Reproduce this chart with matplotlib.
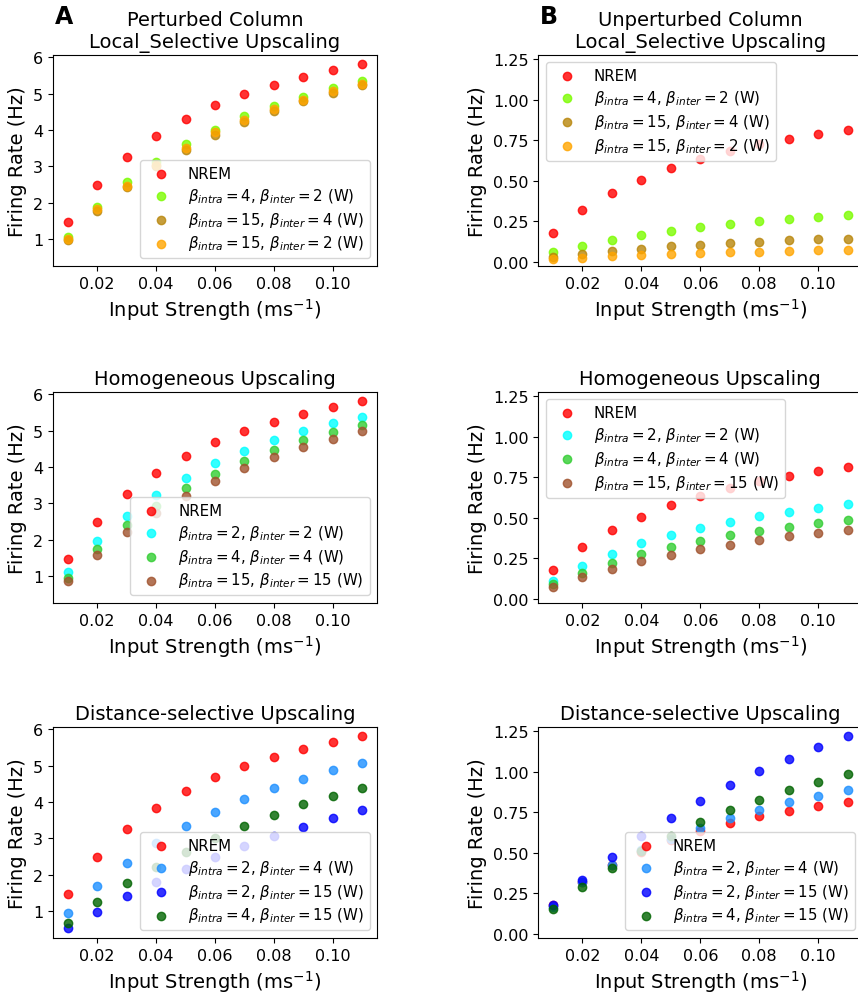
import numpy as np
import matplotlib
matplotlib.use('Agg')
import matplotlib.pyplot as plt

# input strength (ms^-1)
input_strength = [0.01, 0.02, 0.03, 0.04, 0.05, 0.06, 0.07, 0.08, 0.09, 0.10, 0.11]

# perturbed column firing rates (Hz)
pert_nrem = [1.46, 2.49, 3.26, 3.84, 4.31, 4.68, 4.99, 5.24, 5.47, 5.65, 5.81]
pert_loc_4_2 = [1.05, 1.89, 2.56, 3.12, 3.60, 4.01, 4.37, 4.66, 4.91, 5.14, 5.34]
pert_loc_15_4 = [0.98, 1.76, 2.43, 3.00, 3.45, 3.86, 4.22, 4.53, 4.79, 5.02, 5.24]
pert_loc_15_2 = [1.00, 1.81, 2.47, 3.03, 3.51, 3.93, 4.28, 4.57, 4.83, 5.07, 5.26]
pert_hom_2_2 = [1.11, 1.96, 2.66, 3.23, 3.70, 4.10, 4.43, 4.73, 4.98, 5.20, 5.38]
pert_hom_4_4 = [0.94, 1.74, 2.39, 2.93, 3.41, 3.81, 4.16, 4.46, 4.73, 4.96, 5.16]
pert_hom_15_15 = [0.85, 1.57, 2.20, 2.73, 3.19, 3.60, 3.96, 4.27, 4.54, 4.78, 5.00]
pert_dist_2_4 = [0.94, 1.70, 2.33, 2.88, 3.34, 3.73, 4.08, 4.38, 4.64, 4.87, 5.07]
pert_dist_2_15 = [0.52, 0.98, 1.41, 1.80, 2.16, 2.49, 2.79, 3.06, 3.32, 3.56, 3.79]
pert_dist_4_15 = [0.66, 1.24, 1.76, 2.22, 2.63, 3.02, 3.35, 3.65, 3.93, 4.17, 4.39]

# unperturbed column firing rates (Hz)
unpert_nrem = [0.18, 0.317, 0.423, 0.507, 0.577, 0.635, 0.685, 0.726, 0.759, 0.789, 0.815]
unpert_loc_4_2 = [0.058, 0.099, 0.136, 0.164, 0.191, 0.212, 0.232, 0.249, 0.263, 0.275, 0.286]
unpert_loc_15_4 = [0.031, 0.047, 0.068, 0.082, 0.095, 0.105, 0.115, 0.123, 0.132, 0.138, 0.144]
unpert_loc_15_2 = [0.018, 0.027, 0.037, 0.043, 0.049, 0.056, 0.060, 0.064, 0.068, 0.072, 0.076]
unpert_hom_2_2 = [0.113, 0.202, 0.278, 0.342, 0.394, 0.437, 0.476, 0.509, 0.538, 0.563, 0.586]
unpert_hom_4_4 = [0.093, 0.161, 0.223, 0.274, 0.320, 0.357, 0.392, 0.421, 0.446, 0.468, 0.489]
unpert_hom_15_15 = [0.072, 0.132, 0.186, 0.231, 0.270, 0.305, 0.334, 0.363, 0.386, 0.406, 0.425]
unpert_dist_2_4 = [0.168, 0.318, 0.425, 0.515, 0.585, 0.655, 0.712, 0.766, 0.811, 0.852, 0.887]
unpert_dist_2_15 = [0.179, 0.335, 0.474, 0.601, 0.716, 0.819, 0.915, 1.002, 1.080, 1.151, 1.219]
unpert_dist_4_15 = [0.152, 0.289, 0.406, 0.509, 0.605, 0.688, 0.761, 0.825, 0.885, 0.938, 0.985]

nrem_label = 'NREM'
loc_labels = [r'$\beta_{intra} = 4$, $\beta_{inter} = 2$ (W)',
              r'$\beta_{intra} = 15$, $\beta_{inter} = 4$ (W)',
              r'$\beta_{intra} = 15$, $\beta_{inter} = 2$ (W)']
hom_labels = [r'$\beta_{intra} = 2$, $\beta_{inter} = 2$ (W)',
              r'$\beta_{intra} = 4$, $\beta_{inter} = 4$ (W)',
              r'$\beta_{intra} = 15$, $\beta_{inter} = 15$ (W)']
dist_labels = [r'$\beta_{intra} = 2$, $\beta_{inter} = 4$ (W)',
               r'$\beta_{intra} = 2$, $\beta_{inter} = 15$ (W)',
               r'$\beta_{intra} = 4$, $\beta_{inter} = 15$ (W)']

loc_colors = ['lawngreen', 'darkgoldenrod', 'orange']
hom_colors = ['cyan', 'limegreen', 'sienna']
dist_colors = ['dodgerblue', 'blue', 'darkgreen']


def draw_panel(ax, nrem, series, labels, colors, title, legend_loc, ylim):
    """
    Scatter of firing rate vs input strength for one upscaling type
    """
    ax.scatter(input_strength, nrem, color='red', alpha=0.8, label=nrem_label)
    for vals, lab, col in zip(series, labels, colors):
        ax.scatter(input_strength, vals, color=col, alpha=0.8, label=lab)
    ax.set_xlim(0.005, 0.115)
    ax.set_ylim(*ylim)
    ax.set_title(title, fontsize=14)
    ax.set_xlabel('Input Strength (ms$^{-1}$)', fontsize=14)
    ax.set_ylabel('Firing Rate (Hz)', fontsize=14)
    ax.tick_params(labelsize=11.5)
    ax.legend(loc=legend_loc, fontsize=10.8, labelspacing=0.32)


fig = plt.figure(figsize=(8.58, 9.95), dpi=100)

# axes placed by hand, right column runs past the edge like the original crop
col_x = [0.0618, 0.6274]
row_y = [0.7317, 0.3930, 0.0563]
w, h = 0.3776, 0.2121

pert_ylim = (0.256, 6.064)
unpert_ylim = (-0.025, 1.275)

ax = fig.add_axes([col_x[0], row_y[0], w, h])
draw_panel(ax, pert_nrem, [pert_loc_4_2, pert_loc_15_4, pert_loc_15_2], loc_labels, loc_colors,
           'Perturbed Column\nLocal_Selective Upscaling', 'lower right', pert_ylim)
ax = fig.add_axes([col_x[1], row_y[0], w, h])
draw_panel(ax, unpert_nrem, [unpert_loc_4_2, unpert_loc_15_4, unpert_loc_15_2], loc_labels, loc_colors,
           'Unperturbed Column\nLocal_Selective Upscaling', 'upper left', unpert_ylim)

ax = fig.add_axes([col_x[0], row_y[1], w, h])
draw_panel(ax, pert_nrem, [pert_hom_2_2, pert_hom_4_4, pert_hom_15_15], hom_labels, hom_colors,
           'Homogeneous Upscaling', 'lower right', pert_ylim)
ax = fig.add_axes([col_x[1], row_y[1], w, h])
draw_panel(ax, unpert_nrem, [unpert_hom_2_2, unpert_hom_4_4, unpert_hom_15_15], hom_labels, hom_colors,
           'Homogeneous Upscaling', 'upper left', unpert_ylim)

ax = fig.add_axes([col_x[0], row_y[2], w, h])
draw_panel(ax, pert_nrem, [pert_dist_2_4, pert_dist_2_15, pert_dist_4_15], dist_labels, dist_colors,
           'Distance-selective Upscaling', 'lower right', pert_ylim)
ax = fig.add_axes([col_x[1], row_y[2], w, h])
draw_panel(ax, unpert_nrem, [unpert_dist_2_4, unpert_dist_2_15, unpert_dist_4_15], dist_labels, dist_colors,
           'Distance-selective Upscaling', 'lower right', unpert_ylim)

# panel letters
fig.text(0.064, 0.995, 'A', fontsize=17, fontweight='bold', va='top')
fig.text(0.629, 0.995, 'B', fontsize=17, fontweight='bold', va='top')

fig.savefig('out.png', dpi=100)
